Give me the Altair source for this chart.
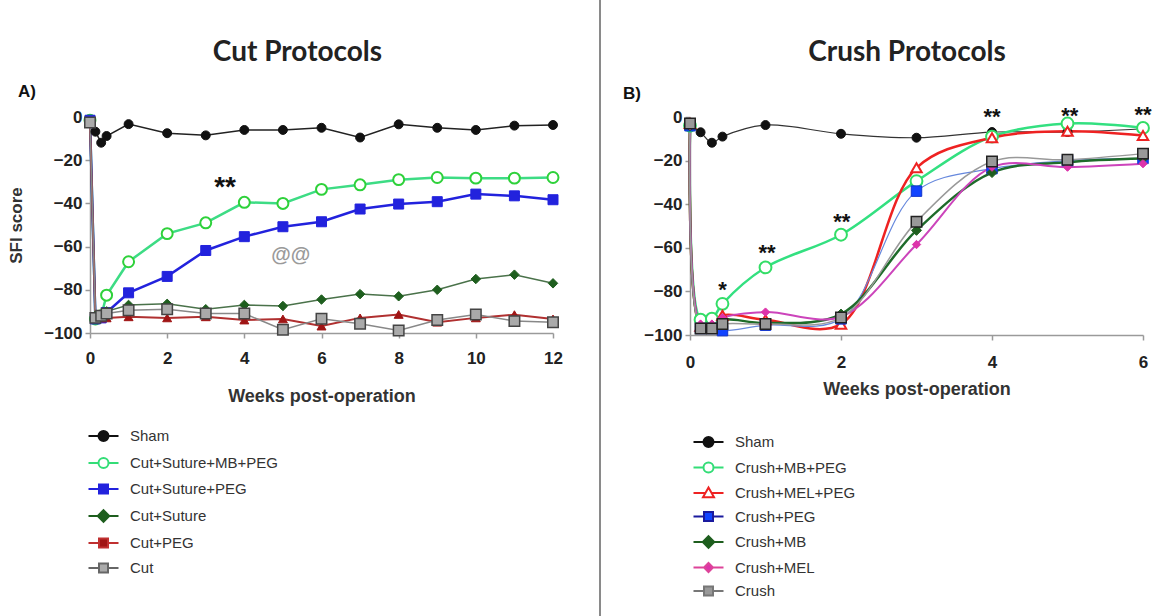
import altair as alt
import pandas as pd

# ---------------- data ----------------
cut_weeks = [0, 0.14, 0.29, 0.43, 1, 2, 3, 4, 5, 6, 7, 8, 9, 10, 11, 12]
cut_names = ["Sham", "Cut+Suture+MB+PEG", "Cut+Suture+PEG", "Cut+Suture", "Cut+PEG", "Cut"]
cut_sham = [-1.5, -6.8, -11.9, -8.8, -3.3, -7.5, -8.5, -6, -6, -5, -9.5, -3.4, -5, -6, -4, -3.7]
cut_suture_mb_peg = [-1.5, -93.5, -92, -82.5, -67, -54, -49, -39.5, -40, -33.5, -31.4, -29, -28, -28.3, -28.3, -28]
cut_suture_peg = [-1.5, -93.5, -93, -90.5, -81.4, -73.8, -61.8, -55.4, -50.8, -48.5, -42.6, -40.3, -39.2, -35.7, -36.5, -38.3]
cut_suture = [-2.5, -92, -92, -90, -87, -86.5, -89, -87, -87.5, -84.5, -82, -83, -80, -75, -73, -77]
cut_peg = [-2.5, -93, -93, -93, -92.5, -93, -92.5, -94, -93.5, -96.8, -93, -91.4, -95, -93, -91.5, -93.5]
cut_only = [-2.5, -93, -92, -91, -89.5, -89, -91, -91, -98.5, -93.4, -95.7, -98.8, -94, -91.4, -94.5, -95]
cut_values = [cut_sham, cut_suture_mb_peg, cut_suture_peg, cut_suture, cut_peg, cut_only]

crush_weeks = [0, 0.14, 0.29, 0.43, 1, 2, 3, 4, 5, 6]
crush_names = ["Sham", "Crush+MB+PEG", "Crush+MEL+PEG", "Crush+PEG", "Crush+MB", "Crush+MEL", "Crush"]
crush_sham = [-3.7, -7, -11.8, -9, -3.7, -7.7, -9.5, -6.9, -6.9, -5.4]
crush_mb_peg = [-4, -93, -92.5, -85.7, -69, -54, -29.4, -9, -3, -5]
crush_mel_peg = [-3, -96, -96, -91, -93, -95, -23.3, -9.5, -6.5, -8.5]
crush_peg = [-4, -97, -97, -98, -95.5, -92.6, -34, -23.7, -20, -19]
crush_mb = [-4, -96, -96, -93, -94.5, -90.4, -52, -25.5, -20.7, -19]
crush_mel = [-4, -95, -95, -92, -89.5, -91.6, -58.5, -23, -23, -21.4]
crush_only = [-3, -97, -97, -95, -95, -92, -48, -20.4, -19.6, -16.8]
crush_values = [crush_sham, crush_mb_peg, crush_mel_peg, crush_peg, crush_mb, crush_mel, crush_only]

cut_note_x = [3.5, 5.2]
cut_note_y = [-29.5, -64]
cut_note_text = ["**", "@@"]
crush_note_x = [0.43, 1.02, 2.01, 4.0, 5.03, 6.0]
crush_note_y = [-77, -60, -46, 2.3, 2.8, 3.4]
crush_note_text = ["*", "**", "**", "**", "**", "**"]

panel_titles = ["Cut Protocols", "Crush Protocols"]
panel_letters = ["A)", "B)"]
x_titles = ["Weeks post-operation", "Weeks  post-operation"]
y_title = "SFI score"

y_ticks = [-100, -80, -60, -40, -20, 0]
cut_x_ticks = [0, 2, 4, 6, 8, 10, 12]
crush_x_ticks = [0, 2, 4, 6]

# ---------------- styles ----------------
CUT_STYLE = {
    "Sham": dict(line="#222222", lw=1.5, shape="circle", size=80, fill="#111111", stroke="#111111", sw=1),
    "Cut+Suture+MB+PEG": dict(line="#3ddc84", lw=2.5, shape="circle", size=120, fill="white", stroke="#2ed13a", sw=2),
    "Cut+Suture+PEG": dict(line="#2222dd", lw=2.5, shape="square", size=100, fill="#2222dd", stroke="#2222dd", sw=1),
    "Cut+Suture": dict(line="#4a724a", lw=1.5, shape="diamond", size=90, fill="#1e5e1e", stroke="#1e5e1e", sw=1),
    "Cut+PEG": dict(line="#b03030", lw=2, shape="triangle-up", size=80, fill="#a01515", stroke="#a01515", sw=1),
    "Cut": dict(line="#888888", lw=1.5, shape="square", size=110, fill="#aaaaaa", stroke="#444444", sw=1.5),
}
CRUSH_STYLE = {
    "Sham": dict(line="#333333", lw=1.2, shape="circle", size=80, fill="#111111", stroke="#111111", sw=1),
    "Crush+MB+PEG": dict(line="#33e080", lw=2.5, shape="circle", size=140, fill="white", stroke="#33dd66", sw=2),
    "Crush+MEL+PEG": dict(line="#ee2222", lw=2.5, shape="triangle-up", size=110, fill="white", stroke="#ee2222", sw=2),
    "Crush+PEG": dict(line="#6688dd", lw=1.2, shape="square", size=110, fill="#1144ff", stroke="#1133cc", sw=1),
    "Crush+MB": dict(line="#1e6b2a", lw=2.5, shape="diamond", size=100, fill="#1e5e1e", stroke="#1e5e1e", sw=1),
    "Crush+MEL": dict(line="#cc44bb", lw=2, shape="diamond", size=70, fill="#dd33aa", stroke="#dd33aa", sw=1),
    "Crush": dict(line="#999999", lw=1.5, shape="square", size=110, fill="#999999", stroke="#222222", sw=1.5),
}

LEG_PATH = {
    "circle": "M-3.0,0H-1M1,0H3.0M-1,0A1,1,0,1,1,1,0A1,1,0,1,1,-1,0Z",
    "square": "M-3.0,0H-0.9M0.9,0H3.0M-0.9,-0.9H0.9V0.9H-0.9Z",
    "diamond": "M-3.0,0H-1.15M1.15,0H3.0M0,-1.15L1.15,0L0,1.15L-1.15,0Z",
    "small-diamond": "M-3.0,0H-0.9M0.9,0H3.0M0,-0.9L0.9,0L0,0.9L-0.9,0Z",
    "triangle-up": "M-3.0,0H-0.65M0.65,0H3.0M0,-1.1L1.1,0.85H-1.1Z",
}
LEG_SHAPE = {"Cut+PEG": "square", "Crush+MEL": "small-diamond"}
LEG_STROKE = {
    "Cut+Suture+MB+PEG": "#33dd77", "Cut": "#666666", "Crush+MB+PEG": "#33dd77",
    "Crush+PEG": "#1a1a9e", "Crush": "#777777", "Crush+MEL": "#dd4499", "Cut+PEG": "#c03030",
}

FONT = "Liberation Sans"


def long_df(weeks, names, values):
    rows = []
    for n, vals in zip(names, values):
        for w, v in zip(weeks, vals):
            rows.append({"week": w, "sfi": v, "series": n})
    return pd.DataFrame(rows)


def panel(weeks, names, values, style, xmax, xticks, width, height, interp,
          ytitle, xtitle, title, title_xy, leg_x, leg_y, leg_rowpad,
          notes, note_sizes, corner, corner_xy, xlabel_pad, xtitle_pad, divider=False):
    df = long_df(weeks, names, values)
    x = alt.X("week:Q", scale=alt.Scale(domain=[0, xmax], nice=False, zero=False),
              axis=alt.Axis(values=xticks, title=xtitle, labelFlush=False, format="d",
                            labelPadding=xlabel_pad, titlePadding=xtitle_pad))
    yaxis = alt.Axis(values=y_ticks, labelFlush=False, title=ytitle if ytitle else None,
                     titlePadding=18)
    y = alt.Y("sfi:Q", scale=alt.Scale(domain=[-100, 0], nice=False), axis=yaxis)

    layers = []
    for n in names:
        s = style[n]
        sub = alt.Chart(df).transform_filter(alt.datum.series == n)
        layers.append(sub.mark_line(color=s["line"], strokeWidth=s["lw"], interpolate=interp)
                      .encode(x=x, y=y))
    for n in names:
        s = style[n]
        sub = alt.Chart(df).transform_filter(alt.datum.series == n)
        layers.append(sub.mark_point(shape=s["shape"], size=s["size"], filled=True,
                                     fill=s["fill"], stroke=s["stroke"], strokeWidth=s["sw"],
                                     opacity=1).encode(x=x, y=y))

    # legend (invisible anchor layer; the legend draws line + marker symbols)
    leg = alt.Legend(title=None, orient="none", legendX=leg_x, legendY=leg_y,
                     symbolSize=100, symbolStrokeWidth=2, symbolFillColor="white",
                     symbolStrokeColor="black", labelFont=FONT, labelFontSize=15,
                     labelColor="#333333", labelOffset=19, rowPadding=leg_rowpad,
                     labelLimit=300, padding=0)
    first = df[df["week"] == 0]
    layers.append(alt.Chart(first).mark_point(filled=True, opacity=0).encode(
        x=x, y=y,
        fill=alt.Fill("series:N", scale=alt.Scale(domain=names, range=[style[n]["fill"] for n in names]), legend=leg),
        stroke=alt.Stroke("series:N", scale=alt.Scale(domain=names, range=[LEG_STROKE.get(n, style[n]["stroke"]) for n in names]), legend=leg),
        shape=alt.Shape("series:N", scale=alt.Scale(domain=names, range=[LEG_PATH[LEG_SHAPE.get(n, style[n]["shape"])] for n in names]), legend=leg),
    ))

    # annotations
    for (nx, ny, nt), (fs, col, dy) in zip(notes, note_sizes):
        ndf = pd.DataFrame({"week": [nx], "sfi": [ny], "t": [nt]})
        layers.append(alt.Chart(ndf).mark_text(font=FONT, fontSize=fs, fontWeight="bold", color=col, dy=dy)
                      .encode(x="week:Q", y="sfi:Q", text="t:N"))

    cdf = pd.DataFrame({"t": [corner]})
    layers.append(alt.Chart(cdf).mark_text(font=FONT, fontSize=17, fontWeight="bold", color="#111111")
                  .encode(text="t:N", x=alt.value(corner_xy[0]), y=alt.value(corner_xy[1])))

    tdf = pd.DataFrame({"t": [title]})
    layers.append(alt.Chart(tdf).mark_text(font="Lato", fontSize=28, fontWeight="bold", color="#222222")
                  .encode(text="t:N", x=alt.value(title_xy[0]), y=alt.value(title_xy[1])))

    if divider:
        layers.append(alt.Chart(cdf).mark_rule(color="#8a8a8a", strokeWidth=2)
                      .encode(x=alt.value(510), y=alt.value(-117), y2=alt.value(499)))

    return alt.layer(*layers).properties(width=width, height=height)


cut_notes = list(zip(cut_note_x, cut_note_y, cut_note_text))
cut_note_style = [(28, "#111111", 7), (20, "#9a9a9a", 0)]
crush_notes = list(zip(crush_note_x, crush_note_y, crush_note_text))
crush_note_style = [(22, "#111111", 5)] * len(crush_notes)

left = panel(cut_weeks, cut_names, cut_values, CUT_STYLE, 12, cut_x_ticks, 463, 216, "linear",
             y_title, x_titles[0], panel_titles[0], (207.5, -64), 6, 311.5, 8,
             cut_notes, cut_note_style, panel_letters[0], (-63, -25), 12, 21, divider=True)
right = panel(crush_weeks, crush_names, crush_values, CRUSH_STYLE, 6, crush_x_ticks, 453, 218, "catmull-rom",
              None, x_titles[1], panel_titles[1], (217, -64), 11, 317.5, 6.5,
              crush_notes, crush_note_style, panel_letters[1], (-58, -23), 14, 10)

chart = alt.hconcat(left, right, spacing=137, bounds="flush").resolve_scale(
    shape="independent", fill="independent", stroke="independent"
).properties(
    padding={"left": 90, "top": 117, "right": 1071, "bottom": 499},
    autosize=alt.AutoSizeParams(type="none"),
    background="white",
).configure_view(stroke=None).configure_axis(
    grid=False, domainColor="#9a9a9a", domainWidth=1.5, tickColor="#9a9a9a", tickWidth=1.5, tickSize=5,
    labelFont=FONT, labelFontSize=17, labelFontWeight="bold", labelColor="#222222", labelPadding=3,
    titleFont=FONT, titleFontSize=18, titleFontWeight="bold", titleColor="#333333",
).configure_axisY(titleFontSize=17)

chart.save("out.html", embed_options={"renderer": "svg", "actions": False})
